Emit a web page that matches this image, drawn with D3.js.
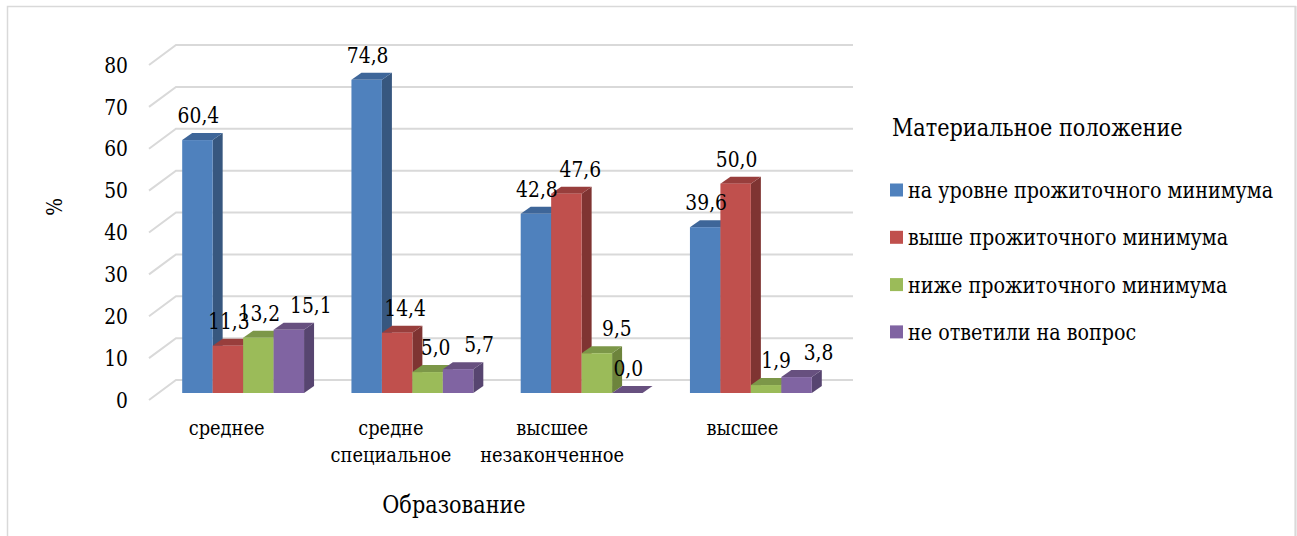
<!DOCTYPE html>
<html>
<head>
<meta charset="utf-8">
<script src="https://cdn.jsdelivr.net/npm/d3@7"></script>
<style>
  html, body { margin: 0; padding: 0; background: #ffffff; }
  svg { display: block; }
  svg text { font-family: "DejaVu Serif", serif; fill: #000; }
</style>
</head>
<body>
<svg id="chart" width="1297" height="536"></svg>
<script>
// Education level categories
const categories = ["среднее", "средне специальное", "высшее незаконченное", "высшее"];
const categoryLines = [["среднее"], ["средне", "специальное"], ["высшее", "незаконченное"], ["высшее"]];

// Series: material situation
const seriesNames = [
  "на уровне прожиточного минимума",
  "выше прожиточного минимума",
  "ниже прожиточного минимума",
  "не ответили на вопрос"
];
const atMinimum    = [60.4, 74.8, 42.8, 39.6];
const aboveMinimum = [11.3, 14.4, 47.6, 50.0];
const belowMinimum = [13.2, 5.0, 9.5, 1.9];
const noAnswer     = [15.1, 5.7, 0.0, 3.8];
const seriesValues = [atMinimum, aboveMinimum, belowMinimum, noAnswer];

const yTicks = [0, 10, 20, 30, 40, 50, 60, 70, 80];

// Face colours: front, side, top
const palette = [
  { front: "#4F81BD", side: "#37577F", top: "#3E6699" },
  { front: "#C0504D", side: "#7F3432", top: "#983E3C" },
  { front: "#9BBB59", side: "#6D843C", top: "#7C9748" },
  { front: "#8064A2", side: "#574570", top: "#67507F" }
];

// Horizontal offsets of the value labels (per series, per category)
const valueLabelNudge = [
  [0, 0, 0, 0],
  [0, 7, 13, 0],
  [0, 7, 19, 9],
  [21, 20, 0, 21]
];

// The serif face available here is wide; narrow it horizontally
const textSquash = 0.85;
function place(sel, x, yPos, rotate) {
  return sel.attr("transform",
    `translate(${x},${yPos})` + (rotate ? ` rotate(${rotate})` : "") + ` scale(${textSquash},1)`);
}

const svg = d3.select("#chart");

// Outer chart frame
svg.append("rect")
  .attr("x", 7.5).attr("y", 6.5)
  .attr("width", 1288).attr("height", 560)
  .attr("fill", "none").attr("stroke", "#d9d9d9").attr("stroke-width", 1.5);
svg.append("line")
  .attr("x1", 1295.5).attr("x2", 1295.5).attr("y1", 6).attr("y2", 536)
  .attr("stroke", "#d9d9d9").attr("stroke-width", 2);

// 3D projection: floor front edge, depth offsets
const left = 149, right = 826;
const floorDepth = { dx: 27, dy: -20 };
const barShift = { dx: 9.5, dy: -7 };   // bars' front plane inside the floor
const barDepth = { dx: 10, dy: -7 };

const y = d3.scaleLinear().domain([0, 80]).range([400, 65]);
const x0 = d3.scaleBand().domain(categories).range([left, right])
  .paddingInner(0.28).paddingOuter(0.14);
const x1 = d3.scaleBand().domain(d3.range(seriesNames.length))
  .range([0, x0.bandwidth()]).padding(0);

// Back wall gridlines with the side-wall diagonal
const grid = svg.append("g");
yTicks.forEach(t => {
  const fy = y(t);
  grid.append("path")
    .attr("d", `M${left},${fy} L${left + floorDepth.dx},${fy + floorDepth.dy} L${right + floorDepth.dx},${fy + floorDepth.dy}`)
    .attr("fill", "none").attr("stroke", "#d9d9d9").attr("stroke-width", 2);
});

// Y axis tick labels
svg.append("g").selectAll("text").data(yTicks).join("text")
  .each(function (d) { place(d3.select(this), 128, y(d)); })
  .attr("dy", "0.35em")
  .attr("text-anchor", "end")
  .style("font-size", "22px")
  .text(d => d);

// Y axis title
place(svg.append("text"), 62, 207, -90)
  .attr("text-anchor", "middle")
  .style("font-size", "22px")
  .text("%");

// Bars as 3D prisms
const bars = svg.append("g");
const labels = svg.append("g");
const h0 = y(0) + barShift.dy;
categories.forEach((cat, ci) => {
  seriesNames.forEach((s, si) => {
    const v = seriesValues[si][ci];
    const xL = x0(cat) + barShift.dx + x1(si);
    const xR = xL + x1.bandwidth();
    const yTop = y(v) + barShift.dy;
    const yBot = h0;
    const c = palette[si];
    const g = bars.append("g");
    // right side face
    g.append("path")
      .attr("d", `M${xR},${yBot} L${xR + barDepth.dx},${yBot + barDepth.dy} L${xR + barDepth.dx},${yTop + barDepth.dy} L${xR},${yTop} Z`)
      .attr("fill", c.side);
    // top face
    g.append("path")
      .attr("d", `M${xL},${yTop} L${xL + barDepth.dx},${yTop + barDepth.dy} L${xR + barDepth.dx},${yTop + barDepth.dy} L${xR},${yTop} Z`)
      .attr("fill", c.top);
    // front face
    if (yBot - yTop > 0) {
      g.append("rect")
        .attr("x", xL).attr("y", yTop)
        .attr("width", xR - xL).attr("height", yBot - yTop)
        .attr("fill", c.front);
    }
    place(labels.append("text"), (xL + xR) / 2 + 1 + valueLabelNudge[si][ci], yTop + barDepth.dy - 10)
      .attr("text-anchor", "middle")
      .style("font-size", "22px")
      .text(d3.format(".1f")(v).replace(".", ","));
  });
});

// Category labels
const labelNudge = [-7, -12, -20, 1];
categories.forEach((cat, ci) => {
  const cx = x0(cat) + x0.bandwidth() / 2 + labelNudge[ci];
  const t = place(svg.append("text"), cx, 435)
    .attr("text-anchor", "middle")
    .style("font-size", "21px");
  categoryLines[ci].forEach((ln, li) => {
    t.append("tspan").attr("x", 0).attr("y", li * 27).text(ln);
  });
});

// X axis title
place(svg.append("text"), 454, 513)
  .attr("text-anchor", "middle")
  .style("font-size", "24.5px")
  .text("Образование");

// Legend
const legend = svg.append("g");
place(legend.append("text"), 892, 136)
  .style("font-size", "24.5px")
  .text("Материальное положение");
seriesNames.forEach((s, i) => {
  const cy = 190 + i * 47.3;
  legend.append("rect")
    .attr("x", 890).attr("y", cy - 6.5)
    .attr("width", 13).attr("height", 13)
    .attr("fill", palette[i].front);
  place(legend.append("text"), 908, cy + 8)
    .style("font-size", "22.5px")
    .text(s);
});
</script>
</body>
</html>
